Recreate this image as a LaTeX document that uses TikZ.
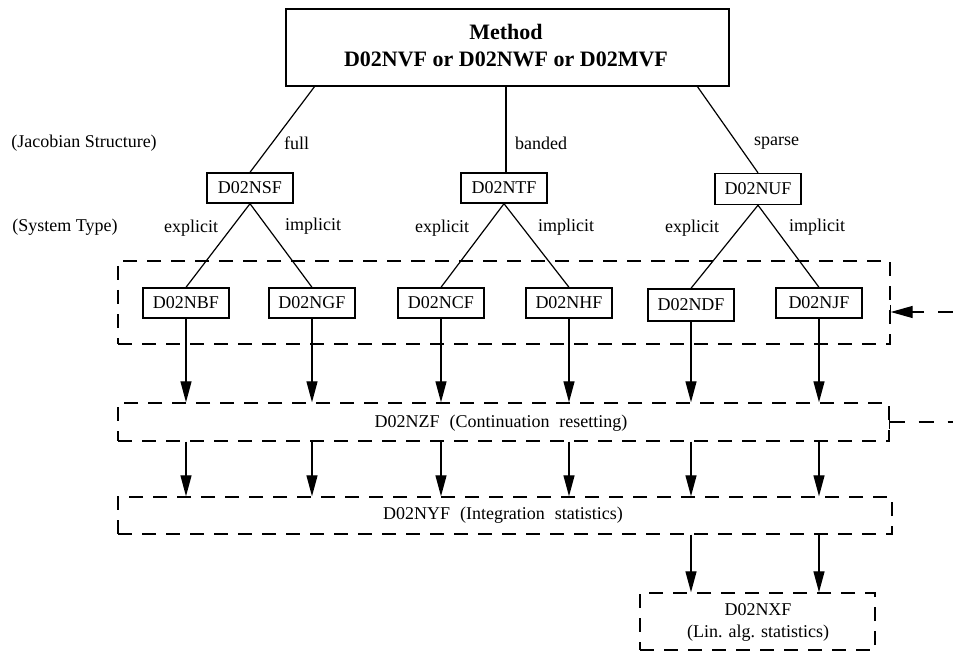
\documentclass[tikz,border=0pt]{standalone}
\usepackage{fontspec}
\setmainfont{Liberation Serif}
\usetikzlibrary{arrows.meta}
\begin{document}
\begin{tikzpicture}[x=1pt,y=-1pt,
  every node/.style={font=\fontsize{18}{20}\selectfont, inner sep=0pt},
  sbox/.style={draw, line width=1.4pt, minimum width=86pt, minimum height=30pt},
  dbox/.style={draw, line width=1.4pt, dash pattern=on 14pt off 10pt},
  tline/.style={line width=1.2pt},
  arr/.style={line width=1.3pt, -{Triangle[length=21pt,width=11pt]}},
  farr/.style={line width=1.3pt, dash pattern=on 15pt off 14pt}]
\useasboundingbox (0,0) rectangle (953,652);

% title
\node[draw, line width=1.4pt, minimum width=443pt, minimum height=77pt] (top) at (507.5,47.5) {};
\node[font=\fontsize{22}{27}\selectfont\bfseries, align=center] (toptxt) at (506,46) {Method\\D02NVF or D02NWF or D02MVF};
\coordinate (tl) at (315,86);
\coordinate (tm) at (506,86);
\coordinate (tr) at (697,86);

% side labels
\node (jac) at (84,143) {(Jacobian Structure)};
\node (sys) at (65,227) {(System Type)};

% second level
\node[sbox] (nsf) at (250,188) {D02NSF};
\node[sbox] (ntf) at (504,188) {D02NTF};
\node[sbox, minimum height=31pt] (nuf) at (758,189) {D02NUF};

\draw[tline] (tl) -- (nsf.north);
\draw[tline] (tm) -- (tm |- ntf.north);
\draw[tline] (tr) -- (nuf.north);

\node[anchor=west] (full) at (284,143) {full};
\node[anchor=west] (banded) at (515,143) {banded};
\node[anchor=west] (sparse) at (754,143) {sparse};

% dashed group box
\node[dbox, minimum width=772pt, minimum height=83pt] (grp) at (504,302.5) {};

% third level
\node[sbox] (nbf) at (186,303) {D02NBF};
\node[sbox] (ngf) at (312,303) {D02NGF};
\node[sbox] (ncf) at (441,303) {D02NCF};
\node[sbox] (nhf) at (569,303) {D02NHF};
\node[sbox, minimum height=32pt] (ndf) at (691,305) {D02NDF};
\node[sbox] (njf) at (819,303) {D02NJF};

\draw[tline] (nsf.south) -- (nbf.north);
\draw[tline] (nsf.south) -- (ngf.north);
\draw[tline] (ntf.south) -- (ncf.north);
\draw[tline] (ntf.south) -- (nhf.north);
\draw[tline] (nuf.south) -- (ndf.north);
\draw[tline] (nuf.south) -- (njf.north);

\node (ex1) at (191,228) {explicit};
\node (im1) at (313,226) {implicit};
\node (ex2) at (442,228) {explicit};
\node (im2) at (566,227) {implicit};
\node (ex3) at (692,228) {explicit};
\node (im3) at (817,227) {implicit};

% NZF
\node[dbox, minimum width=771pt, minimum height=38pt] (nzf) at (503.5,422) {};
\node (nzftxt) at (501,423) {D02NZF\hspace{0.55em}(Continuation\hspace{0.55em}resetting)};

% NYF
\node[dbox, minimum width=774pt, minimum height=37pt] (nyf) at (505,515.5) {};
\node (nyftxt) at (503,515) {D02NYF\hspace{0.55em}(Integration\hspace{0.55em}statistics)};

% NXF
\node[dbox, minimum width=235pt, minimum height=57pt] (nxf) at (757.5,621.5) {};
\node (nxf1) at (758,610) {D02NXF};
\node (nxf2) at (758,633) {(Lin. alg. statistics)};

% arrows
\foreach \n in {nbf,ngf,ncf,nhf,ndf,njf}{
  \draw[arr] (\n.south) -- (\n.south |- nzf.north);
  \draw[arr] (\n.south |- nzf.south) -- (\n.south |- nyf.north);
}
\draw[arr] (ndf.south |- nyf.south) -- (ndf.south |- nxf.north);
\draw[arr] (njf.south |- nyf.south) -- (njf.south |- nxf.north);

% feedback lines
\coordinate (fb1) at (953,312);
\coordinate (fb2) at (953,422);
\draw[farr, -{Triangle[length=22pt,width=12pt]}] (fb1) -- (fb1 -| grp.east);
\draw[line width=1.3pt] (fb1 -| grp.east) ++(0,-7) -- ++(0,14);
\draw[farr] (fb2 -| nzf.east) -- (fb2);
\draw[line width=1.3pt] (fb2 -| nzf.east) ++(0,-7) -- ++(0,14);
\end{tikzpicture}
\end{document}
